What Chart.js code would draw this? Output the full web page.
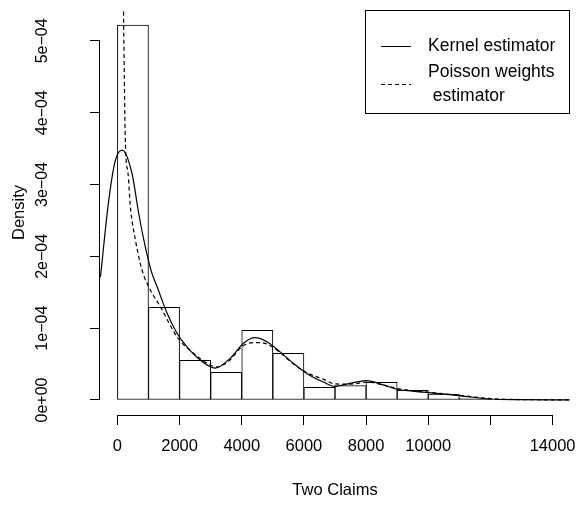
<!DOCTYPE html>
<html>
<head>
<meta charset="utf-8">
<script src="https://cdn.jsdelivr.net/npm/chart.js"></script>
<style>
  body { margin: 0; background: #fff; }
  #wrap { width: 580px; height: 506px; }
</style>
</head>
<body>
<div id="wrap"><canvas id="chart" width="580" height="506"></canvas></div>
<script>
// histogram: bin centres (bins of width 1000) and densities
const binMids = [500, 1500, 2500, 3500, 4500, 5500, 6500, 7500, 8500, 9500, 10500, 11500, 12500, 13500];
const binDensity = [5.22e-4, 1.29e-4, 0.552e-4, 0.385e-4, 0.969e-4, 0.649e-4, 0.177e-4, 0.199e-4,
  0.246e-4, 0.135e-4, 0.083e-4, 0.028e-4, 0.008e-4, 0.004e-4];

// kernel estimator (solid)
const kernelX = [-546, -279, -64, 151, 472, 684, 899, 1114, 1274, 1595, 1917, 2238, 2665, 3147, 3628,
  4057, 4431, 4807, 5234, 5662, 6091, 6625, 7000, 7266, 8018, 8551, 8980, 9944, 10907, 11977, 13000, 14547];
const kernelY = [1.71e-4, 2.78e-4, 3.34e-4, 3.48e-4, 3.15e-4, 2.60e-4, 2.13e-4, 1.76e-4, 1.58e-4, 1.21e-4,
  0.93e-4, 0.74e-4, 0.556e-4, 0.445e-4, 0.58e-4, 0.79e-4, 0.867e-4, 0.81e-4, 0.67e-4, 0.51e-4, 0.37e-4,
  0.25e-4, 0.19e-4, 0.21e-4, 0.27e-4, 0.21e-4, 0.149e-4, 0.107e-4, 0.065e-4, 0.014e-4, 0.005e-4, 0.001e-4];

// Poisson weights estimator (dashed)
const poissonX = [190, 257, 343, 417, 578, 792, 1060, 1381, 1917, 2451, 2986, 3200, 3600, 4057, 4431,
  4807, 5234, 5662, 6091, 6625, 7000, 7500, 8018, 8551, 9000, 9944, 10907, 11977, 13000, 14547];
const poissonY = [5.6e-4, 3.57e-4, 3.15e-4, 2.69e-4, 2.23e-4, 1.81e-4, 1.53e-4, 1.30e-4, 0.88e-4, 0.65e-4,
  0.487e-4, 0.46e-4, 0.55e-4, 0.76e-4, 0.80e-4, 0.78e-4, 0.66e-4, 0.50e-4, 0.38e-4, 0.29e-4, 0.225e-4,
  0.22e-4, 0.25e-4, 0.21e-4, 0.16e-4, 0.11e-4, 0.07e-4, 0.02e-4, 0.006e-4, 0.001e-4];

const xTicks = [0, 2000, 4000, 6000, 8000, 10000, 12000, 14000];
const xTickLabels = ['0', '2000', '4000', '6000', '8000', '10000', '', '14000'];
const yTicks = [0, 1e-4, 2e-4, 3e-4, 4e-4, 5e-4];
const yTickLabels = ['0e+00', '1e\u221204', '2e\u221204', '3e\u221204', '4e\u221204', '5e\u221204'];

const FONT = 'Liberation Sans, Arial, Helvetica, sans-serif';
const zip = (xs, ys) => xs.map((x, i) => ({ x, y: ys[i] }));

// R style axis lines that only run between the outer ticks, plus the legend box
const rAxes = {
  id: 'rAxes',
  afterDraw(chart) {
    const { ctx, chartArea, scales } = chart;
    ctx.save();
    ctx.strokeStyle = '#000';
    ctx.lineWidth = 1;
    ctx.beginPath();
    const yb = Math.round(chartArea.bottom) + 0.5;
    ctx.moveTo(scales.x.getPixelForValue(xTicks[0]), yb);
    ctx.lineTo(scales.x.getPixelForValue(xTicks[xTicks.length - 1]), yb);
    const xl = Math.round(chartArea.left) - 0.5;
    ctx.moveTo(xl, scales.y.getPixelForValue(yTicks[0]));
    ctx.lineTo(xl, scales.y.getPixelForValue(yTicks[yTicks.length - 1]));
    ctx.stroke();

    // legend
    const r = Math.round(chartArea.right) - 0.5, t = Math.round(chartArea.top) + 0.5;
    ctx.strokeRect(365.5, t, r - 365.5, 103);
    ctx.font = '17.5px ' + FONT;
    ctx.fillStyle = '#000';
    ctx.textBaseline = 'middle';
    ctx.beginPath();
    ctx.moveTo(381, 46.5); ctx.lineTo(411, 46.5);
    ctx.stroke();
    ctx.setLineDash([4, 3]);
    ctx.beginPath();
    ctx.moveTo(381, 84.5); ctx.lineTo(411, 84.5);
    ctx.stroke();
    ctx.setLineDash([]);
    ctx.fillText('Kernel estimator', 428, 46);
    ctx.fillText('Poisson weights', 428, 72);
    ctx.fillText(' estimator', 428, 96);
    ctx.restore();
  }
};

new Chart(document.getElementById('chart'), {
  type: 'bar',
  data: {
    datasets: [
      {
        type: 'line',
        label: 'Kernel estimator',
        data: zip(kernelX, kernelY),
        borderColor: '#000',
        borderWidth: 1.2,
        pointRadius: 0,
        cubicInterpolationMode: 'monotone',
        fill: false,
      },
      {
        type: 'line',
        label: 'Poisson weights estimator',
        data: zip(poissonX, poissonY),
        borderColor: '#000',
        borderWidth: 1.2,
        borderDash: [4, 3],
        pointRadius: 0,
        cubicInterpolationMode: 'monotone',
        fill: false,
      },
      {
        label: 'Histogram',
        data: zip(binMids, binDensity),
        backgroundColor: '#fff',
        borderColor: '#000',
        borderWidth: 1,
        borderSkipped: false,
        barPercentage: 1,
        categoryPercentage: 1,
      },
    ],
  },
  options: {
    responsive: false,
    animation: false,
    layout: { padding: { top: 10, right: 10, left: 0, bottom: 0 } },
    plugins: { legend: { display: false }, tooltip: { enabled: false } },
    scales: {
      x: {
        type: 'linear',
        offset: false,
        min: -560,
        max: 14560,
        afterBuildTicks: (s) => { s.ticks = xTicks.map(v => ({ value: v })); },
        afterFit: (s) => { s.height = 91; s.paddingLeft = 0; s.paddingRight = 0; },
        border: { display: false },
        grid: { drawOnChartArea: false, drawTicks: true, tickLength: 10, color: '#000', offset: false },
        ticks: {
          autoSkip: false,
          maxRotation: 0,
          padding: 12,
          color: '#000',
          font: { family: FONT, size: 16.5 },
          callback: (v) => xTickLabels[xTicks.indexOf(v)] ?? '',
        },
        title: { display: true, text: 'Two Claims', color: '#000', font: { family: FONT, size: 16.5 }, padding: { top: 0, bottom: 6 } },
      },
      y: {
        min: -0.209e-4,
        max: 5.43e-4,
        afterBuildTicks: (s) => { s.ticks = yTicks.map(v => ({ value: v })); },
        afterFit: (s) => { s.width = 100; s.paddingTop = 0; s.paddingBottom = 0; },
        border: { display: false },
        grid: { drawOnChartArea: false, drawTicks: true, tickLength: 10, color: '#000' },
        ticks: {
          autoSkip: false,
          minRotation: 90,
          maxRotation: 90,
          crossAlign: 'center',
          padding: 25,
          color: '#000',
          font: { family: FONT, size: 16 },
          callback: (v) => yTickLabels[yTicks.indexOf(v)] ?? '',
        },
        title: { display: true, text: 'Density', color: '#000', font: { family: FONT, size: 16.5 }, padding: { top: 10, bottom: 0 } },
      },
    },
  },
  plugins: [rAxes],
});
</script>
</body>
</html>
